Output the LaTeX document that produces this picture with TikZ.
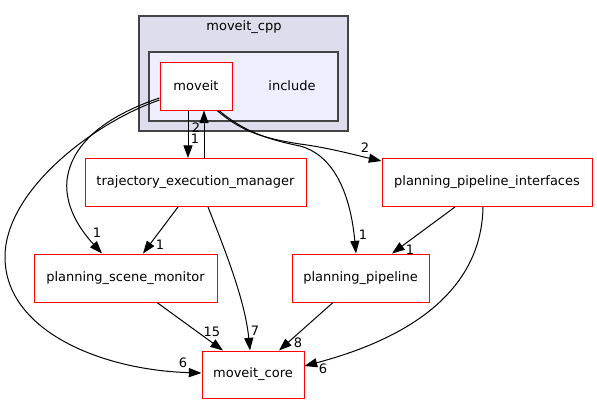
\documentclass[tikz,border=0pt]{standalone}
\usepackage{fontspec}
\setmainfont{DejaVu Sans}
\usetikzlibrary{calc,arrows.meta}
\definecolor{clusterouter}{HTML}{DDDDEE}
\definecolor{clusterinner}{HTML}{EEEEFF}
\definecolor{clusterline}{HTML}{444444}
\begin{document}
\begin{tikzpicture}[x=0.75pt,y=-0.75pt,
  font=\fontsize{9.75}{11}\selectfont,
  dirnode/.style={draw=red,fill=white,line width=0.75pt,inner sep=0pt,minimum height=36pt},
  edge/.style={draw=black,line width=0.75pt,-{Triangle[length=9.5pt,width=6.8pt]}},
  elabel/.style={inner sep=0pt,text height=7.1pt,text depth=0pt,font=\fontsize{9.75}{11}\selectfont},
  cluster/.style={draw=clusterline,line width=0.9pt}]
\useasboundingbox (0,0) rectangle (597,404);
% clusters
\draw[cluster,fill=clusterouter] (139,16) rectangle (348,131);
\node[inner sep=0pt,anchor=base] (cpplabel) at (244,30.5) {moveit\_cpp};
\draw[cluster,fill=clusterinner] (149,52) rectangle (338,121);
\node[inner sep=0pt] (inclabel) at (292,86) {include};
% nodes
\node[dirnode,minimum width=54pt] (moveit) at (196,86) {moveit};
\node[dirnode,minimum width=165.75pt] (tem) at (195.5,182.5) {trajectory\_execution\_manager};
\node[dirnode,minimum width=157.5pt] (ppi) at (487,182.5) {planning\_pipeline\_interfaces};
\node[dirnode,minimum width=137.25pt] (psm) at (125.5,278) {planning\_scene\_monitor};
\node[dirnode,minimum width=102.75pt] (pp) at (360.5,278) {planning\_pipeline};
\node[dirnode,minimum width=76.5pt,minimum height=35.25pt] (mc) at (253,374.5) {moveit\_core};
% edges
\draw[edge] ($(moveit.south)+(-8,0)$) -- ($(tem.north)+(-7.5,0)$);
\draw[edge] ($(tem.north)+(8.5,0)$) -- ($(moveit.south)+(8,0)$);
\draw[edge] ($(moveit.south)+(21,0)$) .. controls (240,130) and (260,138) .. (300,144)
  .. controls (330,148) and (355,155) .. ($(ppi.north west)+(0,3)$);
\draw[edge] ($(moveit.south)+(23,0)$) .. controls (242,130) and (265,139) .. (300,146)
  .. controls (337,156) and (351,200) .. ($(pp.north)+(-4.5,0)$);
\draw[edge] ($(moveit.west)+(0,12)$) .. controls (112,114) and (72,140) .. (67,180)
  .. controls (64,210) and (85,235) .. ($(psm.north)+(-23.5,0)$);
\draw[edge] ($(moveit.west)+(0,14)$) .. controls (95,122) and (5,190) .. (5,257)
  .. controls (5,330) and (100,370) .. ($(mc.west)+(0,-1.5)$);
\draw[edge] ($(tem.south)+(-17.5,0)$) -- ($(psm.north)+(17.5,0)$);
\draw[edge] ($(tem.south)+(12.5,0)$) .. controls (225,250) and (245,300) .. ($(mc.north)+(-3,0)$);
\draw[edge] ($(ppi.south)+(-32,0)$) -- ($(pp.north)+(31.5,0)$);
\draw[edge] ($(ppi.south)+(-4,0)$) .. controls (482,270) and (440,330) .. ($(mc.east)+(0,-8.5)$);
\draw[edge] ($(psm.south)+(31.5,0)$) -- ($(mc.north)+(-30,0)$);
\draw[edge] ($(pp.south)+(-27.5,0)$) -- ($(mc.north)+(26,0)$);
% edge labels
\node[elabel] (l1) at (196,127.5) {2};
\node[elabel] (l2) at (195,138.5) {1};
\node[elabel] (l3) at (365,148) {2};
\node[elabel] (l4) at (363,235) {1};
\node[elabel] (l5) at (97,233) {1};
\node[elabel] (l6) at (160,245) {1};
\node[elabel] (l7) at (410,250) {1};
\node[elabel] (l8) at (212,332) {15};
\node[elabel] (l9) at (255,331) {7};
\node[elabel] (l10) at (298,343) {8};
\node[elabel] (l11) at (323,369) {6};
\node[elabel] (l12) at (183,363) {6};
\end{tikzpicture}
\end{document}
